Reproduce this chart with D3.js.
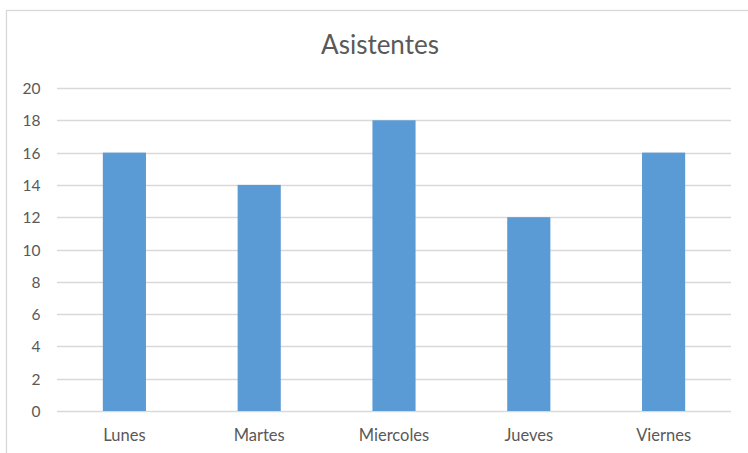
<!DOCTYPE html>
<html><head><meta charset="utf-8">
<script src="https://cdn.jsdelivr.net/npm/d3@7"></script>
<style>
html,body{margin:0;padding:0;background:#fff;}
svg{display:block;}
</style></head>
<body>
<svg id="chart" width="748" height="453"></svg>
<script>
const title = "Asistentes";
const categories = ["Lunes", "Martes", "Miercoles", "Jueves", "Viernes"];
const values = [16, 14, 18, 12, 16];
const yTicks = [0, 2, 4, 6, 8, 10, 12, 14, 16, 18, 20];

(function () {
const svg = d3.select("#chart");
const font = "Lato, 'Open Sans', sans-serif";
const textColor = "#595959";

// outer border
svg.append("rect")
  .attr("x", 6.5).attr("y", 10.5)
  .attr("width", 760).attr("height", 460)
  .attr("fill", "#fff").attr("stroke", "#d9d9d9").attr("stroke-width", 1.3);

const plotL = 57, plotR = 731, plotT = 88, plotB = 411;

const x = d3.scaleBand().domain(categories).range([plotL, plotR])
  .paddingInner(0.68).paddingOuter(0.34);
const y = d3.scaleLinear().domain([0, 20]).range([plotB, plotT]);

// gridlines
svg.append("g").selectAll("line").data(yTicks).join("line")
  .attr("x1", plotL).attr("x2", plotR)
  .attr("y1", d => Math.round(y(d)) + 0.5).attr("y2", d => Math.round(y(d)) + 0.5)
  .attr("stroke", "#d9d9d9").attr("stroke-width", 1.3);

// bars
svg.append("g").selectAll("rect").data(values).join("rect")
  .attr("x", (d, i) => x(categories[i]))
  .attr("width", x.bandwidth())
  .attr("y", d => y(d))
  .attr("height", d => y(0) - y(d))
  .attr("fill", "#5b9bd5");

// y axis labels
const yAxis = d3.axisLeft(y).tickValues(yTicks).tickSize(0).tickPadding(0);
const gy = svg.append("g").attr("transform", `translate(40.5,0)`).call(yAxis);
gy.select(".domain").remove();
gy.selectAll("text").attr("font-family", font).attr("font-size", 15.5)
  .attr("fill", textColor).attr("dy", "0.36em");

// x axis labels
const xAxis = d3.axisBottom(x).tickSize(0).tickPadding(0);
const gx = svg.append("g").attr("transform", `translate(0,441)`).call(xAxis);
gx.select(".domain").remove();
gx.selectAll("text").attr("font-family", font).attr("font-size", 16.5)
  .attr("fill", textColor).attr("dy", 0);

// title
svg.append("text").attr("x", 380).attr("y", 54)
  .attr("text-anchor", "middle")
  .attr("font-family", font).attr("font-size", 26).attr("font-weight", 400)
  .attr("fill", textColor).text(title);
})();
</script>
</body></html>
